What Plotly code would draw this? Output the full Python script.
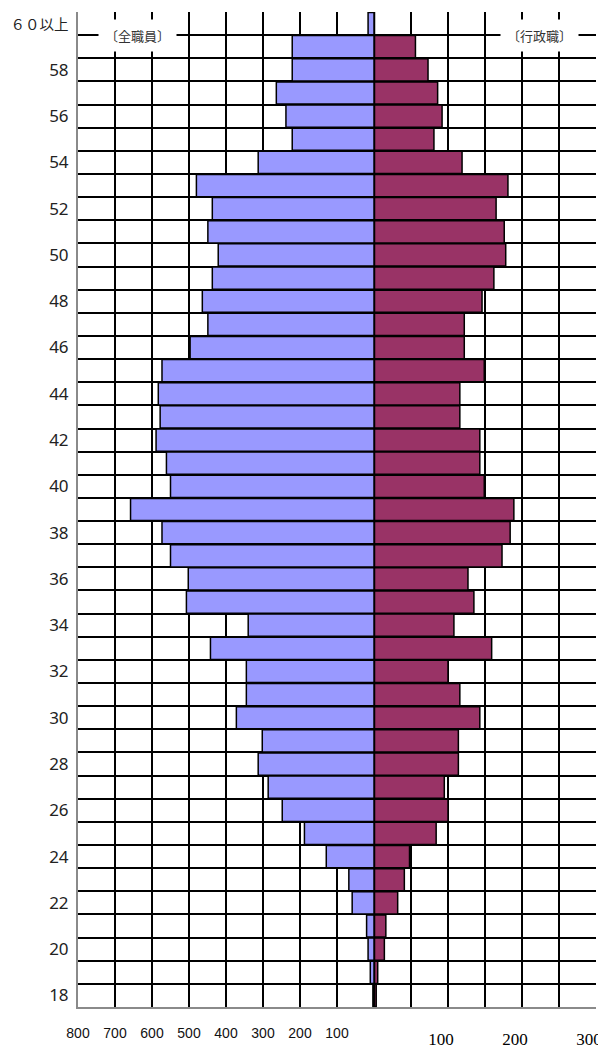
import plotly.graph_objects as go

# Age categories (bottom -> top)
ages = [str(a) for a in range(18, 60)] + ["６０以上"]

# 全職員 (all staff), ages 18..59, 60以上
all_staff = [3, 10, 16, 20, 59, 68, 129, 188, 248, 286,
             313, 302, 372, 345, 345, 442, 340, 507, 502, 550,
             573, 658, 550, 561, 589, 578, 583, 573, 497, 449,
             464, 437, 421, 449, 437, 480, 313, 221, 238, 264,
             221, 221, 16]

# 行政職 (administrative staff), ages 18..59, 60以上
admin = [3, 5, 14, 16, 32, 41, 48, 84, 100, 95,
         114, 114, 143, 116, 100, 159, 108, 135, 127, 173,
         184, 189, 149, 143, 143, 116, 116, 149, 122, 122,
         146, 162, 178, 176, 165, 181, 119, 81, 92, 86,
         73, 56, 0]


def age_label(a):
    if a == "６０以上":
        return '<span style="font-size:14.5px">' + a + "</span>"
    return a if int(a) % 2 == 0 else ""


age_tick_text = [age_label(a) for a in ages]
left_ticks = [100, 200, 300, 400, 500, 600, 700, 800]
left_tick_text = ["100", "200", "300", "400", "500", "600", "700", "800"]
right_ticks = [50, 100, 150, 200, 250, 300]
right_tick_text = ["", "100", "", "200", "", "300"]

SPLIT = 296 / 518

fig = go.Figure()
fig.add_trace(go.Bar(
    y=ages, x=all_staff, orientation="h", xaxis="x", yaxis="y",
    marker=dict(color="#9999FF", line=dict(color="#000000", width=1.5)),
    name="全職員", hoverinfo="x+y"))
fig.add_trace(go.Bar(
    y=ages, x=admin, orientation="h", xaxis="x2", yaxis="y",
    marker=dict(color="#993366", line=dict(color="#000000", width=1.5)),
    name="行政職", hoverinfo="x+y"))

grid = dict(showgrid=True, gridcolor="#000000", gridwidth=1.5, zeroline=False,
            automargin=False)

# the page body adds an 8px offset, so the figure is 8px smaller
fig.update_layout(
    width=598, height=1040,
    margin=dict(l=70, r=10, t=4, b=41),
    paper_bgcolor="white", plot_bgcolor="white",
    showlegend=False, barmode="overlay", bargap=0.04,
    xaxis=dict(domain=[0, SPLIT], range=[800, 0], anchor="y",
               tickmode="array", tickvals=left_ticks, ticktext=left_tick_text,
               ticks="", ticklabelstandoff=12,
               tickfont=dict(family="Liberation Sans, Arial", size=14, color="#111"),
               showline=True, linecolor="#8a8a8a", linewidth=2, **grid),
    xaxis2=dict(domain=[SPLIT, 1], range=[0, 300], anchor="y",
                tickmode="array", tickvals=right_ticks, ticktext=right_tick_text,
                ticks="", ticklabelstandoff=16, ticklabelshift=-7,
                tickfont=dict(family="Liberation Serif, Times New Roman", size=17, color="#000"),
                showline=True, linecolor="#8a8a8a", linewidth=2, **grid),
    xaxis3=dict(overlaying="x", side="top", anchor="y", domain=[0, SPLIT],
                range=[800, 0], tickmode="array", tickvals=left_ticks,
                ticks="outside", ticklen=3, tickcolor="#000", tickwidth=1.5,
                showticklabels=False, showgrid=False, zeroline=False, automargin=False,
                showline=True, linecolor="#000", linewidth=2),
    xaxis4=dict(overlaying="x2", side="top", anchor="y", domain=[SPLIT, 1],
                range=[0, 300], tickmode="array", tickvals=right_ticks,
                ticks="outside", ticklen=3, tickcolor="#000", tickwidth=1.5,
                showticklabels=False, showgrid=False, zeroline=False, automargin=False,
                showline=True, linecolor="#000", linewidth=2),
    yaxis=dict(type="category", categoryorder="array", categoryarray=ages,
               range=[-0.5, len(ages) - 0.5], anchor="x",
               tickmode="array", tickvals=ages, ticktext=age_tick_text,
               tickson="boundaries", ticks="", ticklabelstandoff=4,
               tickfont=dict(family="Noto Sans, Noto Sans CJK JP", size=17, color="#222"),
               showline=True, linecolor="#8a8a8a", linewidth=2, **grid),
    yaxis2=dict(overlaying="y", anchor="x2", side="right",
                range=[-0.5, len(ages) - 0.5], showticklabels=False,
                showgrid=False, zeroline=False, ticks="", automargin=False,
                showline=True, linecolor="#8a8a8a", linewidth=2),
)

# center (zero) line
fig.add_shape(type="line", xref="x2", yref="paper", x0=0, x1=0, y0=0, y1=1,
              line=dict(color="#000000", width=2.5), layer="above")

ann_font = dict(family="Noto Sans CJK JP", size=13, color="#333")
fig.add_annotation(text="〔全職員〕", xref="x", yref="y", x=640, y=len(ages) - 1.5,
                   showarrow=False, bgcolor="white", borderpad=6, font=ann_font)
fig.add_annotation(text="〔行政職〕", xref="x2", yref="y", x=224, y=len(ages) - 1.5,
                   showarrow=False, bgcolor="white", borderpad=6, font=ann_font)

fig.write_html("out.html")
